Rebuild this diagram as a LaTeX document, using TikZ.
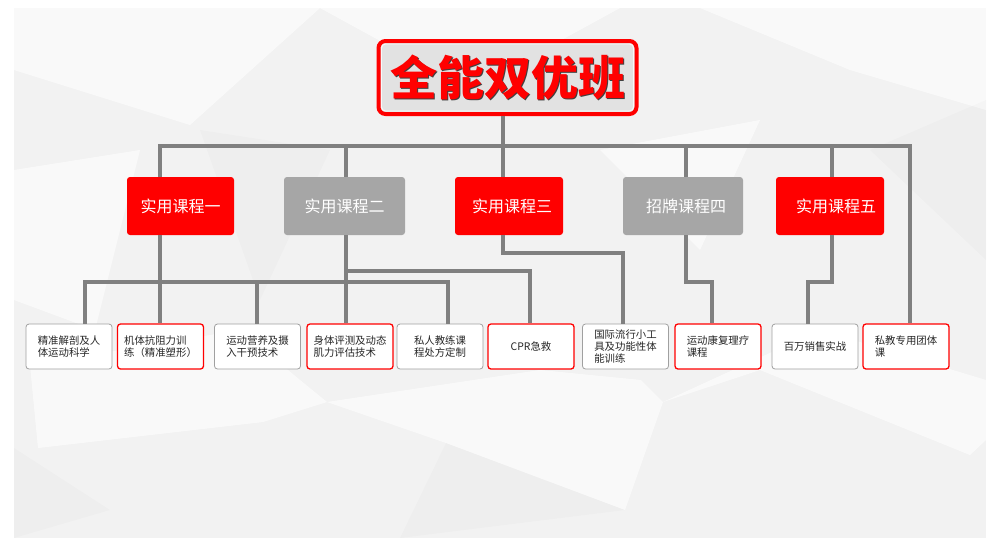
\documentclass[tikz,border=0pt]{standalone}
\usepackage{fontspec}
\setmainfont{Noto Sans CJK SC}
\definecolor{bred}{HTML}{FF0000}
\definecolor{bgrey}{HTML}{A6A6A6}
\definecolor{lgrey}{HTML}{808080}
\definecolor{panel}{HTML}{F2F2F2}
\definecolor{tgrey}{HTML}{E2E2E2}
\definecolor{leafline}{HTML}{A0A0A0}
\begin{document}
\begin{tikzpicture}[x=1pt,y=-1pt,
  conn/.style={draw=lgrey,line width=3.2pt},
  coursebox/.style={rounded corners=3pt,minimum height=58pt,text=white,font=\fontsize{16}{18}\selectfont,inner sep=0pt},
  redc/.style={coursebox,fill=bred},
  greyc/.style={coursebox,fill=bgrey},
  leaf/.style={rounded corners=3pt,minimum width=86pt,minimum height=45pt,fill=white,font=\fontsize{10.4}{12.2}\selectfont,align=left,text=black!85,inner sep=0pt},
  leafg/.style={leaf,draw=leafline,line width=0.8pt},
  leafr/.style={leaf,draw=bred,line width=1.3pt},
  facet/.style={fill=white,opacity=0.6},
  dfacet/.style={fill=black,opacity=0.015}]
% background
\useasboundingbox (0,0) rectangle (990,539);
\fill[white] (0,0) rectangle (990,539);
\fill[panel] (14,8) rectangle (986,538);
\fill[facet] (14,8) -- (320,8) -- (190,125) -- (14,70) -- cycle;
\fill[facet] (320,8) -- (620,8) -- (470,90) -- cycle;
\fill[facet] (700,8) -- (986,8) -- (986,110) -- (850,70) -- cycle;
\fill[facet] (14,170) -- (140,150) -- (95,330) -- (14,300) -- cycle;
\fill[facet] (38,448) -- (263,422) -- (327,402) -- (300,380) -- (240,330) -- (30,365) -- cycle;
\fill[facet] (327,402) -- (446,443) -- (625,510) -- (663,402) -- (641,380) -- (540,370) -- cycle;
\fill[facet] (663,402) -- (760,370) -- (970,455) -- (986,440) -- (986,380) -- (820,330) -- cycle;
\fill[facet] (600,150) -- (760,120) -- (700,250) -- cycle;
\fill[dfacet] (14,448) -- (110,510) -- (14,538) -- cycle;
\fill[dfacet] (446,443) -- (625,510) -- (400,538) -- cycle;
\fill[dfacet] (870,150) -- (986,100) -- (986,260) -- cycle;
\fill[dfacet] (200,130) -- (330,150) -- (260,300) -- cycle;
% title
\node[draw=bred,line width=4pt,fill=tgrey,rounded corners=7pt,minimum width=258pt,minimum height=73pt] (title) at (507.5,77.5) {};
\draw[white,opacity=0.8,line width=0.9pt,rounded corners=4pt] ([shift={(5,5)}]title.north west) rectangle ([shift={(-5,-5)}]title.south east);
\node[font=\bfseries\fontsize{47}{50}\selectfont,text=black!75] at ([shift={(1.4,1.4)}]title.center) {全能双优班};
\node[font=\bfseries\fontsize{47}{50}\selectfont,text=bred] (ttext) at (title.center) {全能双优班};
% courses
\node[redc,minimum width=107pt] (c1) at (180.5,206) {实用课程一};
\node[greyc,minimum width=121pt] (c2) at (344.5,206) {实用课程二};
\node[redc,minimum width=108pt] (c3) at (509,206) {\hspace{6pt}实用课程三};
\node[greyc,minimum width=120pt] (c4) at (683,206) {\hspace{6pt}招牌课程四};
\node[redc,minimum width=108pt] (c5) at (830,206) {\hspace{12pt}实用课程五};
% leaves
\node[leafg] (b1) at (69,346.5) {精准解剖及人\\体运动科学};
\node[leafr] (b2) at (160.5,346.5) {机体抗阻力训\\练（精准塑形）};
\node[leafg] (b3) at (257.5,346.5) {运动营养及摄\\入干预技术};
\node[leafr] (b4) at (350,346.5) {身体评测及动态\\肌力评估技术};
\node[leafg] (b5) at (440,346.5) {私人教练课\\程处方定制};
\node[leafr] (b6) at (531,346.5) {CPR急救};
\node[leafg] (b7) at (625.5,346.5) {国际流行小工\\具及功能性体\\能训练};
\node[leafr] (b8) at (718,346.5) {运动康复理疗\\课程};
\node[leafg] (b9) at (815,346.5) {百万销售实战};
\node[leafr] (b10) at (906,346.5) {私教专用团体\\课};
% connector coordinates
\coordinate (xa) at (160,146);
\coordinate (xb) at (346,146);
\coordinate (xc) at (503,146);
\coordinate (xd) at (686,146);
\coordinate (xe) at (832,146);
\coordinate (xf) at (910,146);
\coordinate (bus2L) at (85,282);
\coordinate (bus2R) at (448,282);
\coordinate (p3) at (257,282);
\coordinate (br2) at (530,271);
\coordinate (br3) at (623,253);
\coordinate (br4) at (712,282);
\coordinate (br5) at (808,282);
% top level
\draw[conn] (title.south -| xc) -- (c3.north -| xc);
\draw[conn] (c1.north -| xa) |- (xf) -- (b10.north -| xf);
\draw[conn] (xb) -- (c2.north -| xb);
\draw[conn] (xd) -- (c4.north -| xd);
\draw[conn] (xe) -- (c5.north -| xe);
% second level
\draw[conn] (c1.south -| xa) -- (b2.north -| xa);
\draw[conn] (b1.north -| bus2L) |- (bus2R) -- (b5.north -| bus2R);
\draw[conn] (p3) -- (b3.north -| p3);
\draw[conn] (c2.south -| xb) -- (b4.north -| xb);
\draw[conn] (xb |- br2) -- (br2) -- (b6.north -| br2);
\draw[conn] (c3.south -| xc) |- (br3) -- (b7.north -| br3);
\draw[conn] (c4.south -| xd) |- (br4) -- (b8.north -| br4);
\draw[conn] (c5.south -| xe) |- (br5) -- (b9.north -| br5);
\end{tikzpicture}
\end{document}
